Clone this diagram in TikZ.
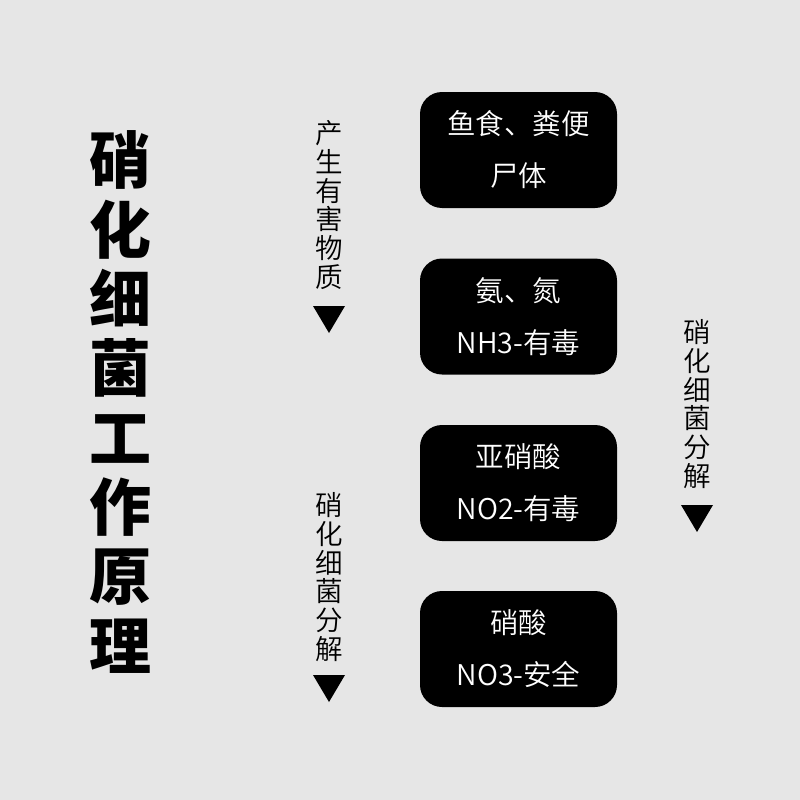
\documentclass[tikz,border=0pt]{standalone}
\usepackage{fontspec}
\setmainfont{Noto Sans CJK SC}
\newfontfamily\lightcjk{Noto Sans CJK SC}[UprightFont={* DemiLight}]
\definecolor{bg}{HTML}{E6E6E6}
\tikzset{
  box/.style={fill=black, rounded corners=22pt, minimum width=197pt, minimum height=116pt, inner sep=0pt, text=white, align=center, font=\lightcjk\fontsize{28.5}{52}\selectfont},
  vlabel/.style={align=center, inner sep=0pt, font=\lightcjk\fontsize{27.5}{28.8}\selectfont},
  tri/.style={fill=black}
}
\begin{document}
\begin{tikzpicture}[x=1pt,y=-1pt]
\fill[bg] (0,0) rectangle (800,800);
\useasboundingbox (0,0) rectangle (800,800);
\node[align=center, inner sep=0pt, font=\fontsize{62}{69.3}\selectfont\bfseries] (title) at (120,402) {硝\\化\\细\\菌\\工\\作\\原\\理};
\node[box] (b1) at (518.5,150) {鱼食、粪便\\尸体};
\node[box] (b2) at (518.5,316.5) {氨、氮\\NH3-有毒};
\node[box] (b3) at (518.5,483) {亚硝酸\\NO2-有毒};
\node[box] (b4) at (518.5,649) {硝酸\\NO3-安全};
\node[vlabel] (l1) at (329,205) {产\\生\\有\\害\\物\\质};
\node[vlabel] (l2) at (329,577) {硝\\化\\细\\菌\\分\\解};
\node[vlabel] (l3) at (697,404) {硝\\化\\细\\菌\\分\\解};
\fill[tri] (313,306) -- (345,306) -- (329,333) -- cycle;
\fill[tri] (313,675) -- (345,675) -- (329,702) -- cycle;
\fill[tri] (681,505) -- (713,505) -- (697,532) -- cycle;
\end{tikzpicture}
\end{document}
